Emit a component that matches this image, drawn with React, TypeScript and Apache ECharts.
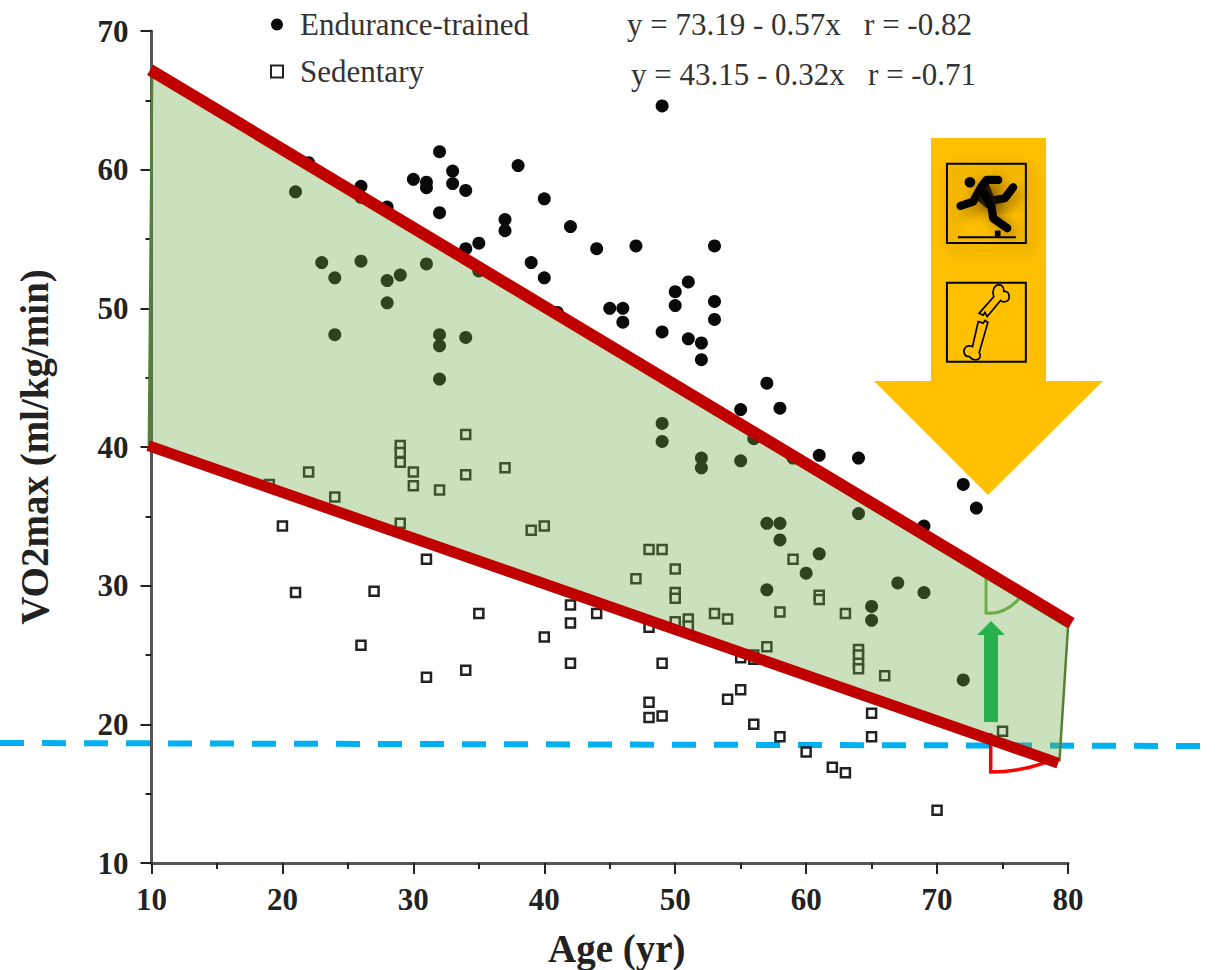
import React, { useEffect, useRef } from "react";
import * as echarts from "echarts";

const xTicks = { min: 10, max: 80, interval: 10 };
const yTicks = { min: 10, max: 70, interval: 10 };

const enduranceTrained: number[][] = [
  [49, 64.6], [32, 61.3], [38, 60.3], [33, 59.9], [30, 59.3], [31, 59.1], [31, 58.7], [33, 59.0],
  [34, 58.5], [40, 57.9], [26, 58.8], [26, 58.0], [22, 60.5], [21, 58.4], [28, 57.3], [32, 56.9],
  [37, 56.4], [37, 55.6], [42, 55.9], [44, 54.3], [47, 54.5], [53, 54.5], [35, 54.7], [34, 54.3],
  [39, 53.3], [40, 52.2], [35, 52.7], [51, 51.9], [50, 51.2], [50, 50.2], [53, 50.5], [53, 49.2],
  [45, 50.0], [46, 50.0], [46, 49.0], [41, 49.7], [49, 48.3], [51, 47.8], [52, 47.5], [52, 46.3],
  [57, 44.6], [58, 42.8], [55, 42.7], [56, 40.6], [61, 39.4], [59, 39.2], [64, 39.2], [72, 37.3],
  [73, 35.6], [69, 34.3], [23, 53.3], [24, 52.2], [26, 53.4], [28, 52.0], [29, 52.4], [31, 53.2],
  [28, 50.4], [24, 48.1], [32, 48.1], [32, 47.3], [34, 47.9], [32, 44.9], [49, 41.7], [49, 40.4],
  [52, 39.2], [52, 38.5], [55, 39.0], [57, 34.5], [58, 34.5], [58, 33.3], [61, 32.3], [60, 30.9],
  [57, 29.7], [67, 30.2], [69, 29.5], [65, 28.5], [65, 27.5], [64, 35.2], [72, 23.2],
];

const sedentary: number[][] = [
  [19, 37.3], [20, 34.3], [21, 29.5], [22, 38.2], [24, 36.4], [26, 25.7], [27, 29.6], [29, 40.1],
  [29, 39.6], [29, 38.9], [30, 38.2], [30, 37.2], [29, 34.5], [32, 36.9], [34, 40.9], [34, 38.0],
  [37, 38.5], [31, 31.9], [31, 23.4], [34, 23.9], [35, 28.0], [39, 34.0], [40, 34.3], [40, 26.3],
  [42, 28.6], [42, 27.3], [42, 24.4], [44, 28.0], [47, 30.5], [48, 32.6], [49, 32.6], [50, 31.2],
  [50, 29.5], [50, 29.1], [48, 27.0], [50, 27.4], [51, 27.6], [51, 27.1], [53, 28.0], [54, 27.6],
  [48, 21.6], [48, 20.5], [49, 20.6], [49, 24.4], [54, 21.8], [55, 22.5], [55, 24.8], [56, 25.0],
  [56, 24.7], [57, 25.6], [56, 20.0], [58, 19.1], [58, 28.1], [59, 31.9], [61, 29.3], [61, 29.0],
  [60, 18.0], [62, 16.9], [63, 16.5], [63, 28.0], [64, 25.4], [64, 25.0], [64, 24.4], [64, 24.0],
  [65, 20.8], [65, 19.1], [66, 23.5], [70, 13.8], [75, 19.5],
];

const upperEdge: number[][] = [[9.9, 67.2], [80.27, 27.3]];
const lowerEdge: number[][] = [[9.75, 40.1], [79.25, 17.2]];
const bandCorners: number[][] = [[10.05, 67], [80, 27], [79.35, 17.4], [9.8, 40.2]];

const equations = ["y = 73.19 - 0.57x   r = -0.82", "y = 43.15 - 0.32x   r = -0.71"];
const SERIF = "'Liberation Serif', 'Times New Roman', serif";

const FIG_X = 870, FIG_Y = 130, FIG_S = 1 / 3;
const bonePaths: Record<string, string> = {
  boneUpper: "M328,550 L372,500 C365,485 372,465 388,465 C400,465 402,480 402,485 C412,482 420,492 418,505 C415,518 398,518 392,512 L352,560 L345,548 L340,556 Z",
  boneLower: "M325,575 L340,580 L345,572 L354,578 L328,668 C335,678 330,692 315,690 C305,690 300,682 298,680 C285,682 278,665 285,655 C290,647 302,647 308,650 Z",
};
Object.keys(bonePaths).forEach((k) =>
  echarts.graphic.registerShape(k, echarts.graphic.extendPath(bonePaths[k], {}) as any)
);
echarts.graphic.registerShape("greenAngle", echarts.graphic.extendPath("M986,578 L986,613 Q1004,615 1019,599", {}) as any);
echarts.graphic.registerShape("redAngle", echarts.graphic.extendPath("M990.7,733 L990.7,772 Q1018,772 1044,763", {}) as any);

export default function App() {
  const ref = useRef<HTMLDivElement>(null);
  useEffect(() => {
    const chart = echarts.init(ref.current!, null, { renderer: "svg" });
    const runnerStroke = { stroke: "#000", fill: "none", lineWidth: 25, lineCap: "round", lineJoin: "round" };
    const shadow = { shadowBlur: 14, shadowColor: "rgba(90,60,0,0.6)", shadowOffsetX: 5, shadowOffsetY: 5 };
    const axisCommon = {
      type: "value" as const,
      nameLocation: "middle" as const,
      axisLine: { show: true, onZero: false, lineStyle: { color: "#555", width: 3 } },
      axisTick: { show: true, length: 11, lineStyle: { color: "#222", width: 2 } },
      minorTick: { show: true, splitNumber: 2, length: 6, lineStyle: { color: "#222", width: 2 } },
      splitLine: { show: false },
      minorSplitLine: { show: false },
    };
    const nameStyle = { fontFamily: SERIF, fontWeight: "bold" as const, fontSize: 39, color: "#222" };
    chart.setOption({
      animation: false,
      backgroundColor: "#fff",
      grid: { left: 151.5, top: 31, width: 916.5, height: 832, containLabel: false, outerBoundsMode: "none" },
      legend: {
        show: true,
        left: 265,
        top: 4,
        orient: "vertical",
        itemGap: 16,
        itemWidth: 12,
        itemHeight: 12,
        data: ["Endurance-trained", "Sedentary"],
        textStyle: { fontFamily: SERIF, fontSize: 31, color: "#333", padding: [0, 0, 0, 12] },
      },
      xAxis: {
        ...axisCommon,
        ...xTicks,
        name: "Age (yr)",
        nameGap: 66,
        nameTextStyle: { ...nameStyle, padding: [0, 0, 0, 14] },
        axisLabel: { margin: 21, fontFamily: SERIF, fontWeight: "bold", fontSize: 31, color: "#222" },
      },
      yAxis: {
        ...axisCommon,
        ...yTicks,
        name: "VO2max (ml/kg/min)",
        nameRotate: 90,
        nameGap: 98,
        nameTextStyle: nameStyle,
        axisLabel: { margin: 23, fontFamily: SERIF, fontWeight: "bold", fontSize: 31, color: "#222" },
      },
      series: [
        {
          name: "Endurance-trained",
          type: "scatter",
          data: enduranceTrained,
          symbol: "circle",
          symbolSize: 13,
          itemStyle: { color: "#0a0a0a", opacity: 1 },
          z: 2,
        },
        {
          name: "Sedentary",
          type: "scatter",
          data: sedentary,
          symbol: "rect",
          symbolSize: 9,
          itemStyle: { color: "#fff", borderColor: "#222", borderWidth: 2.5, opacity: 1 },
          z: 2,
        },
        {
          name: "band",
          type: "custom",
          data: [bandCorners[0]],
          silent: true,
          clip: false,
          z: 3,
          renderItem: (_p: any, api: any) => ({
            type: "polygon",
            shape: { points: bandCorners.map((c) => api.coord(c)) },
            style: { fill: "rgba(112,173,71,0.36)", stroke: "#548235", lineWidth: 2.5 },
          }),
        },
        {
          name: "upper",
          type: "line",
          data: upperEdge,
          symbol: "none",
          clip: false,
          silent: true,
          lineStyle: { color: "#C00000", width: 12, cap: "butt" },
          z: 4,
        },
        {
          name: "lower",
          type: "line",
          data: lowerEdge,
          symbol: "none",
          clip: false,
          silent: true,
          lineStyle: { color: "#C00000", width: 11, cap: "butt" },
          z: 4,
        },
      ],
      graphic: [
        {
          type: "line",
          z: 1,
          shape: { x1: 0, y1: 743, x2: 1203, y2: 746 },
          style: { stroke: "#00B0F0", lineWidth: 6, lineDash: [24, 18] },
        },
        {
          type: "text", z: 6, x: 627, y: 24,
          style: { text: equations[0], fontFamily: SERIF, fontSize: 31, fill: "#333", verticalAlign: "middle" },
        },
        {
          type: "text", z: 6, x: 631, y: 74,
          style: { text: equations[1], fontFamily: SERIF, fontSize: 31, fill: "#333", verticalAlign: "middle" },
        },
        { type: "greenAngle", z: 3, style: { fill: "none", stroke: "#70AD47", lineWidth: 3 } },
        { type: "redAngle", z: 1, style: { fill: "none", stroke: "#FF0000", lineWidth: 3.5 } },
        {
          type: "polygon", z: 5,
          shape: { points: [[984, 722], [998, 722], [998, 635], [1005, 635], [991, 621], [977, 635], [984, 635]] },
          style: { fill: "#28B04D" },
        },
        {
          type: "polygon", z: 5,
          shape: { points: [[931, 138], [1046, 138], [1046, 381], [1103, 381], [988, 495], [874, 381], [931, 381]] },
          style: { fill: "#FFC000" },
        },
        {
          type: "group", x: FIG_X, y: FIG_Y, scaleX: FIG_S, scaleY: FIG_S,
          children: [
            { type: "rect", z: 6, shape: { x: 231, y: 101, width: 237, height: 238 }, style: { fill: "none", stroke: "#000", lineWidth: 6, ...shadow } },
            { type: "circle", z: 6, shape: { cx: 300, cy: 157, r: 16 }, style: { fill: "#000", ...shadow } },
            { type: "polygon", z: 6, shape: { points: [[330, 170], [350, 145], [370, 195], [372, 240], [350, 235], [315, 205]] }, style: { fill: "#000", ...shadow } },
            { type: "polyline", z: 6, shape: { points: [[272, 228], [310, 215], [335, 170], [350, 150], [385, 150]] }, style: { ...runnerStroke, ...shadow } },
            { type: "polyline", z: 6, shape: { points: [[338, 185], [365, 212], [405, 205], [430, 172]] }, style: { ...runnerStroke, ...shadow } },
            { type: "polyline", z: 6, shape: { points: [[338, 185], [365, 230], [370, 265], [412, 295]] }, style: { ...runnerStroke, ...shadow } },
            { type: "rect", z: 6, shape: { x: 375, y: 302, width: 17, height: 18 }, style: { fill: "#000" } },
            { type: "line", z: 6, shape: { x1: 264, y1: 322, x2: 438, y2: 322 }, style: { stroke: "#000", lineWidth: 6 } },
            { type: "rect", z: 6, shape: { x: 231, y: 459, width: 237, height: 237 }, style: { fill: "none", stroke: "#000", lineWidth: 6 } },
            { type: "boneUpper", z: 7, style: { fill: "#FFC000", stroke: "#000", lineWidth: 5 } },
            { type: "boneLower", z: 7, style: { fill: "#FFC000", stroke: "#000", lineWidth: 5 } },
          ],
        },
      ],
    });
    return () => chart.dispose();
  }, []);
  return <div ref={ref} style={{ position: "absolute", left: 0, top: 0, width: 1217, height: 970 }} />;
}
